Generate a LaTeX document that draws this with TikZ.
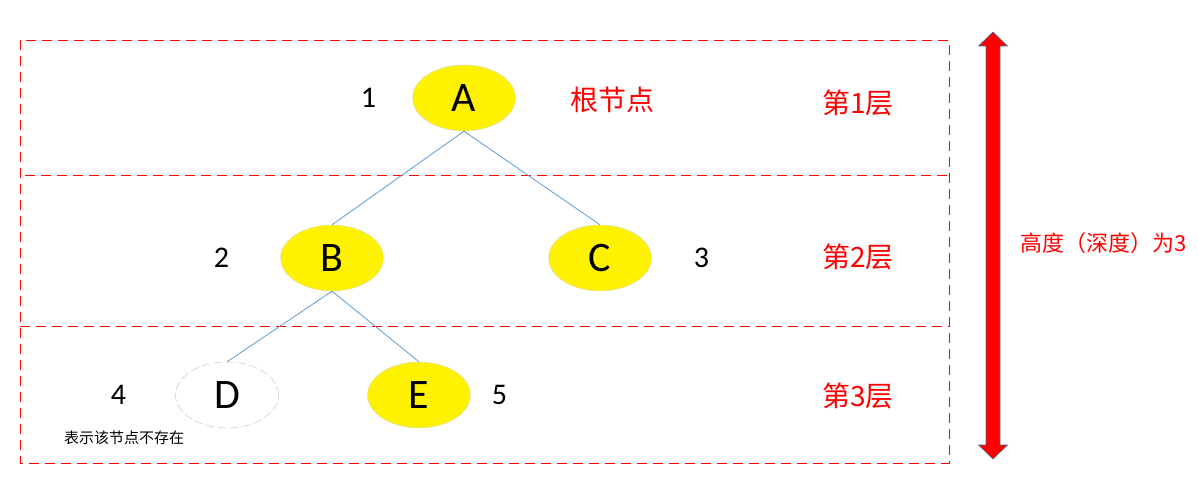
\documentclass[tikz,border=0pt]{standalone}
\usepackage{fontspec}
\setmainfont{Carlito}
\newfontfamily\cjk{Noto Sans CJK SC}
\usepackage{xcolor}
\usetikzlibrary{shapes.geometric,positioning}

\definecolor{edgeblue}{HTML}{5B9BD5}
\definecolor{arrowrim}{HTML}{41719C}

\begin{document}
\begin{tikzpicture}[
    x=1pt, y=-1pt,
    tnode/.style={draw=black!15, ellipse, fill=yellow, minimum width=103pt, minimum height=66pt, inner sep=0pt, font=\fontsize{42}{42}\selectfont},
    ghost/.style={tnode, fill=white, draw=black!25, dash pattern=on 9pt off 3pt},
    num/.style={inner sep=0pt, font=\fontsize{30}{30}\selectfont},
    redtxt/.style={inner sep=0pt, text=red, font=\cjk\fontsize{28}{28}\selectfont},
    layer/.style={draw=red, dash pattern=on 10pt off 6pt, line width=0.8pt},
    edge/.style={draw=edgeblue, line width=0.8pt}
]
    \useasboundingbox (0,0) rectangle (1198,494);

    % layers
    \draw[layer] (20,40) rectangle (949,463);
    \draw[layer] (25,175) -- (949,175);
    \draw[layer] (20,326) -- (949,326);

    % tree
    \node[tnode] (A) at (464,98) {A};
    \node[tnode] (B) at (332,258) {B};
    \node[tnode] (C) at (600,258) {C};
    \node[ghost] (D) at (227,395) {D};
    \node[tnode] (E) at (419,395) {E};

    \draw[edge] (A.south) -- (B.north);
    \draw[edge] (A.south) -- (C.north);
    \draw[edge] (B.south) -- (D.north);
    \draw[edge] (B.south) -- (E.north);

    % numbering
    \node[num, left=36pt of A] (n1) {1};
    \node[num, left=51pt of B] (n2) {2};
    \node[num, right=42pt of C] (n3) {3};
    \node[num, left=49pt of D] (n4) {4};
    \node[num, right=21pt of E] (n5) {5};

    \node[redtxt] (root) at (612,100) {根节点};
    \node[inner sep=0pt, font=\cjk\fontsize{15}{15}\selectfont] (note) at (124,438) {表示该节点不存在};

    \node[redtxt] (lv1) at (858,103) {第1层};
    \node[redtxt] (lv2) at (858,257) {第2层};
    \node[redtxt] (lv3) at (858,396) {第3层};

    % height arrow
    \filldraw[fill=red, draw=arrowrim, line width=0.6pt]
        (993,32) -- (1007.5,46) -- (1000,46) -- (1000,445) -- (1007.5,445) -- (993,459)
        -- (978.5,445) -- (986,445) -- (986,46) -- (978.5,46) -- cycle;
    \node[inner sep=0pt, text=red, font=\cjk\fontsize{22}{22}\selectfont] (depth) at (1104,243) {高度（深度）为3};

\end{tikzpicture}
\end{document}
